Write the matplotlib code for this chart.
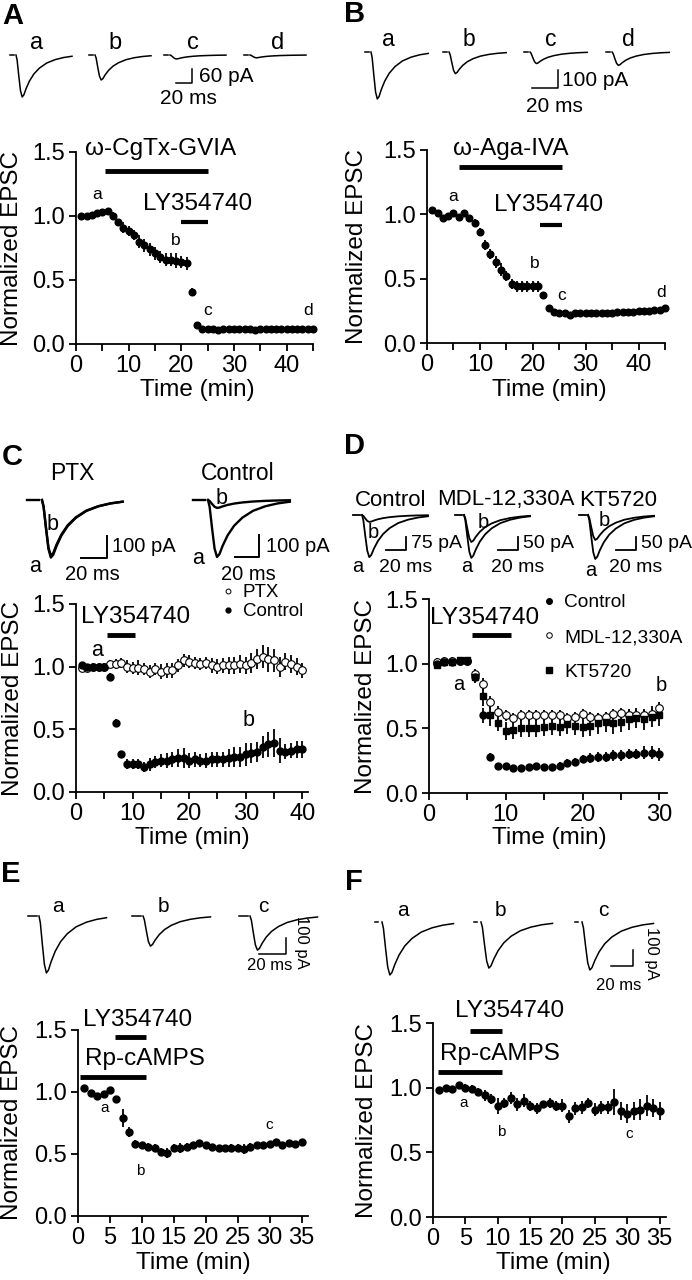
import numpy as np
import matplotlib
matplotlib.use("Agg")
import matplotlib.pyplot as plt
from matplotlib.lines import Line2D

plt.rcParams['font.family'] = ['Liberation Sans', 'DejaVu Sans']

W, H = 692, 1280

##################################################
# time courses: normalized EPSC (mean, sem), one point per minute
##################################################

tA = np.arange(1, 46)
epscA = [1.00, 1.00, 1.01, 1.02, 1.03, 1.04, 1.00, 0.95, 0.91, 0.88,
         0.85, 0.80, 0.77, 0.74, 0.71, 0.68, 0.66, 0.66, 0.65, 0.64,
         0.63, 0.41, 0.15, 0.12, 0.12, 0.12, 0.11, 0.12, 0.12, 0.12,
         0.12, 0.12, 0.12, 0.11, 0.12, 0.12, 0.12, 0.12, 0.12, 0.12,
         0.12, 0.12, 0.12, 0.12, 0.12]
semA = [0.02, 0.02, 0.02, 0.02, 0.02, 0.02, 0.03, 0.03, 0.04, 0.04,
        0.04, 0.05, 0.05, 0.05, 0.05, 0.05, 0.05, 0.05, 0.06, 0.05,
        0.05, 0.03, 0.02, 0.015, 0.015, 0.015, 0.015, 0.015, 0.015, 0.015,
        0.015, 0.015, 0.015, 0.015, 0.015, 0.015, 0.015, 0.015, 0.015, 0.015,
        0.015, 0.015, 0.015, 0.015, 0.015]

tB = np.arange(1, 46)
epscB = [1.03, 1.01, 0.97, 0.99, 1.01, 0.98, 1.01, 0.97, 0.93, 0.86,
         0.76, 0.69, 0.63, 0.57, 0.52, 0.46, 0.44, 0.44, 0.44, 0.44,
         0.44, 0.37, 0.27, 0.24, 0.23, 0.23, 0.22, 0.23, 0.23, 0.23,
         0.23, 0.23, 0.23, 0.23, 0.23, 0.24, 0.24, 0.24, 0.24, 0.25,
         0.25, 0.25, 0.26, 0.26, 0.27]
semB = [0.02, 0.02, 0.02, 0.02, 0.02, 0.02, 0.02, 0.02, 0.03, 0.03,
        0.04, 0.04, 0.05, 0.05, 0.04, 0.04, 0.04, 0.04, 0.04, 0.04,
        0.04, 0.03, 0.02, 0.02, 0.03, 0.03, 0.02, 0.02, 0.02, 0.02,
        0.02, 0.02, 0.02, 0.02, 0.02, 0.02, 0.02, 0.02, 0.02, 0.02,
        0.02, 0.02, 0.02, 0.02, 0.02]

tC = np.arange(1, 41)
ctrlC = [1.01, 1.00, 1.00, 1.00, 1.00, 0.92, 0.55, 0.30, 0.22, 0.22,
         0.22, 0.20, 0.22, 0.24, 0.25, 0.25, 0.26, 0.27, 0.27, 0.25,
         0.26, 0.25, 0.25, 0.26, 0.26, 0.26, 0.27, 0.28, 0.28, 0.30,
         0.31, 0.32, 0.36, 0.38, 0.39, 0.33, 0.32, 0.33, 0.34, 0.34]
ctrlC_sem = [0.02, 0.02, 0.02, 0.02, 0.02, 0.03, 0.03, 0.03, 0.04, 0.04,
             0.04, 0.04, 0.05, 0.05, 0.05, 0.06, 0.06, 0.07, 0.08, 0.06,
             0.06, 0.05, 0.06, 0.06, 0.06, 0.06, 0.07, 0.08, 0.08, 0.09,
             0.08, 0.08, 0.09, 0.10, 0.11, 0.10, 0.06, 0.06, 0.07, 0.07]
ptxC = [0.99, 0.99, 1.00, 1.00, 1.00, 1.02, 1.02, 1.03, 1.00, 0.99,
        0.99, 0.98, 0.96, 0.98, 0.96, 0.97, 0.97, 1.01, 1.05, 1.04,
        1.03, 1.02, 1.03, 1.01, 1.00, 1.01, 1.01, 1.01, 1.02, 1.01,
        1.03, 1.06, 1.08, 1.06, 1.05, 1.00, 1.04, 1.02, 1.00, 0.97]
ptxC_sem = [0.03, 0.03, 0.03, 0.03, 0.03, 0.03, 0.04, 0.04, 0.05, 0.05,
            0.06, 0.05, 0.05, 0.05, 0.06, 0.06, 0.06, 0.05, 0.05, 0.05,
            0.05, 0.05, 0.05, 0.06, 0.06, 0.06, 0.07, 0.07, 0.07, 0.07,
            0.08, 0.08, 0.09, 0.10, 0.09, 0.08, 0.07, 0.07, 0.07, 0.06]

tD = np.arange(1, 31)
ctrlD = [1.00, 1.01, 1.01, 1.02, 1.02, 0.90, 0.60, 0.28, 0.21, 0.21,
         0.19, 0.19, 0.20, 0.21, 0.20, 0.20, 0.21, 0.23, 0.24, 0.26,
         0.27, 0.28, 0.28, 0.29, 0.29, 0.30, 0.30, 0.31, 0.31, 0.30]
ctrlD_sem = [0.02, 0.02, 0.02, 0.02, 0.02, 0.04, 0.06, 0.03, 0.02, 0.02,
             0.02, 0.02, 0.02, 0.02, 0.02, 0.02, 0.03, 0.03, 0.03, 0.03,
             0.04, 0.04, 0.04, 0.04, 0.04, 0.04, 0.04, 0.05, 0.05, 0.05]
mdlD = [1.01, 1.02, 1.02, 1.02, 1.02, 0.92, 0.84, 0.70, 0.63, 0.60,
        0.58, 0.60, 0.60, 0.60, 0.60, 0.60, 0.60, 0.58, 0.59, 0.61,
        0.59, 0.58, 0.59, 0.61, 0.62, 0.60, 0.60, 0.60, 0.61, 0.66]
mdlD_sem = [0.03, 0.03, 0.03, 0.03, 0.03, 0.04, 0.05, 0.05, 0.04, 0.04,
            0.04, 0.04, 0.04, 0.04, 0.04, 0.04, 0.04, 0.04, 0.04, 0.04,
            0.04, 0.04, 0.04, 0.04, 0.04, 0.04, 0.04, 0.04, 0.04, 0.04]
ktD = [0.99, 1.01, 1.01, 1.03, 1.03, 0.90, 0.75, 0.60, 0.54, 0.48,
       0.49, 0.50, 0.50, 0.50, 0.51, 0.52, 0.51, 0.53, 0.52, 0.51,
       0.52, 0.54, 0.55, 0.54, 0.55, 0.57, 0.58, 0.57, 0.59, 0.60]
ktD_sem = [0.02, 0.02, 0.02, 0.02, 0.02, 0.05, 0.08, 0.08, 0.06, 0.07,
           0.07, 0.07, 0.07, 0.07, 0.07, 0.07, 0.07, 0.07, 0.07, 0.08,
           0.08, 0.08, 0.08, 0.08, 0.08, 0.08, 0.08, 0.08, 0.08, 0.08]

tE = np.arange(1, 36)
epscE = [1.03, 0.99, 0.97, 0.98, 1.02, 0.94, 0.79, 0.68, 0.58, 0.57,
         0.56, 0.55, 0.52, 0.51, 0.55, 0.55, 0.56, 0.57, 0.59, 0.57,
         0.56, 0.55, 0.55, 0.55, 0.55, 0.54, 0.56, 0.57, 0.57, 0.58,
         0.60, 0.57, 0.59, 0.58, 0.60]
semE = [0.02, 0.02, 0.02, 0.02, 0.02, 0.03, 0.07, 0.04, 0.03, 0.03,
        0.03, 0.03, 0.03, 0.04, 0.03, 0.04, 0.03, 0.02, 0.02, 0.02,
        0.02, 0.02, 0.02, 0.03, 0.03, 0.04, 0.03, 0.02, 0.02, 0.02,
        0.02, 0.02, 0.02, 0.02, 0.02]

tF = np.arange(1, 36)
epscF = [0.98, 1.00, 0.99, 1.02, 1.00, 0.99, 0.97, 0.94, 0.91, 0.86,
         0.88, 0.92, 0.87, 0.90, 0.86, 0.84, 0.87, 0.88, 0.86, 0.86,
         0.78, 0.84, 0.85, 0.88, 0.83, 0.85, 0.85, 0.89, 0.82, 0.80,
         0.82, 0.83, 0.86, 0.84, 0.82]
semF = [0.02, 0.02, 0.02, 0.02, 0.03, 0.03, 0.03, 0.04, 0.04, 0.06,
        0.04, 0.05, 0.05, 0.05, 0.04, 0.04, 0.03, 0.04, 0.04, 0.05,
        0.05, 0.05, 0.05, 0.04, 0.05, 0.05, 0.05, 0.10, 0.07, 0.07,
        0.07, 0.08, 0.08, 0.07, 0.07]

# drug application periods (min)
cgtxA = [5.5, 25.0]
lyA = [20.0, 25.0]
agaB = [6.0, 25.5]
lyB = [21.4, 25.5]
lyC = [5.5, 10.4]
lyD = [5.6, 10.7]
rpE = [0.3, 10.6]
lyE = [5.8, 10.6]
rpF = [0.8, 10.7]
lyF = [5.7, 10.7]

##################################################
# example EPSC traces (peak amplitude in pA, trace length in ms)
##################################################

# normalized EPSC waveform: fraction of trace length, fraction of peak
tpl_t = [0.00, 0.02, 0.05, 0.08, 0.11, 0.14, 0.18, 0.24, 0.32, 0.42, 0.55, 0.70, 0.85, 1.00]
tpl_v = [0.00, -0.12, -0.50, -0.85, -1.00, -0.95, -0.80, -0.62, -0.45, -0.31, -0.19, -0.11, -0.06, -0.03]

ampA = [180, 107, 17, 12]
durA = 70
ampB = [261, 120, 64, 74]
durB = 44
ampC_ptx = [256, 248]      # a, b
ampC_ctrl = [259, 36]
durC = 62
ampD_ctrl = [243, 40]
ampD_mdl = [165, 104]
ampD_kt = [169, 96]
durD = 66
ampE = [356, 188, 213]
durE = 50
ampF = [331, 288, 300]
durF = 65

fig = plt.figure(figsize=(W / 100, H / 100), dpi=100)


def frac(x0, y0, x1, y1):
    # pixel box (origin top left) -> figure fraction rect
    return [x0 / W, 1 - y1 / H, (x1 - x0) / W, (y1 - y0) / H]


def ftext(x, y, s, size, **kw):
    kw.setdefault('ha', 'center')
    kw.setdefault('va', 'center')
    fig.text(x / W, 1 - y / H, s, fontsize=size, **kw)


def time_axes(left, right, top, bottom, xmax, lab_step):
    ax = fig.add_axes(frac(left, top, right, bottom))
    ax.set_xlim(0, xmax)
    ax.set_ylim(0, 1.5)
    for s in ('top', 'right'):
        ax.spines[s].set_visible(False)
    for s in ('left', 'bottom'):
        ax.spines[s].set_linewidth(1.3)
    ticks = np.arange(0, xmax + 0.1, 5)
    ax.set_xticks(ticks)
    ax.set_xticklabels(['%d' % t if t % lab_step == 0 else '' for t in ticks])
    ax.set_yticks([0, 0.5, 1.0, 1.5])
    ax.set_yticklabels(['0.0', '0.5', '1.0', '1.5'])
    ax.tick_params(direction='out', length=5, width=1.3, labelsize=17, pad=3)
    ax.patch.set_visible(False)
    return ax


def course(ax, t, y, e, marker='o', ms=5, mfc='k', mew=1.0):
    c = ax.errorbar(t, y, yerr=e, fmt=marker, ms=ms, mfc=mfc, mec='k', mew=mew,
                    ecolor='k', elinewidth=1.3, capsize=0)
    c.lines[0].set_clip_on(False)
    for art in c.lines[2]:
        art.set_clip_on(False)


def drug(ax, span, y, lw=3.5):
    ax.plot(span, [y, y], color='k', lw=lw, solid_capstyle='butt', clip_on=False)


def trace_box(x0, base, ms_px, pa_px):
    # frameless axes whose origin (0 ms, 0 pA) sits at pixel (x0, base)
    ax = fig.add_axes(frac(x0 - 40, base - 40, x0 + 120, base + 80))
    ax.set_xlim(-40 / ms_px, 120 / ms_px)
    ax.set_ylim(-80 / pa_px, 40 / pa_px)
    ax.axis('off')
    ax.px = (x0, base, ms_px, pa_px)
    return ax


def epsc(ax, amp, dur, lw=1.1):
    ax.plot(np.array(tpl_t) * dur, np.array(tpl_v) * amp, color='k', lw=lw, clip_on=False)


def dash(ax, length, gap, lw=1.1):
    x0, base, ms_px, pa_px = ax.px
    ax.plot([-(gap + length) / ms_px, -gap / ms_px], [0, 0], color='k', lw=lw)


def scale_bar(ax, cx, cy, ms, pa, lw=1.1):
    x0, base, ms_px, pa_px = ax.px
    x = (cx - x0) / ms_px
    y = -(cy - base) / pa_px
    ax.plot([x - ms, x, x], [y, y, y + pa], color='k', lw=lw, clip_on=False)


def ylab(x, y):
    ftext(x, y, 'Normalized EPSC', 17.5, rotation=90)


def xlab(x, y):
    ftext(x, y, 'Time (min)', 17.5)


# panel letters
for letter, (x, y) in zip('ABCDEF', [(13, 16), (355, 14), (12, 457),
                                       (354, 446), (11, 874), (354, 882)]):
    ftext(x, y, letter, 21, fontweight='bold')

##################################################
# A
##################################################
starts = [16, 95, 170, 250]
for i, (x0, amp) in enumerate(zip(starts, ampA)):
    tb = trace_box(x0, 55, 0.8, 14 / 60)
    dash(tb, 4, 2)
    epsc(tb, amp, durA)
    if i == 2:
        scale_bar(tb, 192, 83, 20, 60)
for s, x in zip('abcd', [37, 115, 193, 278]):
    ftext(x, 43, s, 17)
ftext(199, 77, '60 pA', 15, ha='left')
ftext(188, 99, '20 ms', 15)

axA = time_axes(76, 313, 152, 344, 45, 10)
course(axA, tA, epscA, semA, ms=4.8)
drug(axA, cgtxA, 1.35)
drug(axA, lyA, 0.95, lw=3)
axA.text(16, 1.52, 'ω-CgTx-GVIA', fontsize=17.5, ha='center', va='center')
axA.text(23, 1.09, 'LY354740', fontsize=17.5, ha='center', va='center')
for s, x, y in [('a', 4, 1.17), ('b', 19, 0.81), ('c', 25, 0.26), ('d', 44, 0.26)]:
    axA.text(x, y, s, fontsize=12.5, ha='center', va='center')
ylab(12, 248)
xlab(197, 390)

##################################################
# B
##################################################
starts = [371, 449, 530, 612]
for i, (x0, amp) in enumerate(zip(starts, ampB)):
    tb = trace_box(x0, 52, 1.3, 0.18)
    dash(tb, 4, 2)
    epsc(tb, amp, durB)
    if i == 2:
        scale_bar(tb, 558, 88, 20, 100)
for s, x in zip('abcd', [388, 469, 551, 628]):
    ftext(x, 40, s, 16.5)
ftext(562, 80, '100 pA', 15, ha='left')
ftext(554, 107, '20 ms', 15)

axB = time_axes(427, 665, 150, 343, 45, 10)
course(axB, tB, epscB, semB, ms=4.8)
drug(axB, agaB, 1.37)
drug(axB, lyB, 0.92, lw=3)
axB.text(15.9, 1.51, 'ω-Aga-IVA', fontsize=17.5, ha='center', va='center')
axB.text(23, 1.07, 'LY354740', fontsize=17.5, ha='center', va='center')
for s, x, y in [('a', 5, 1.14), ('b', 20.4, 0.62), ('c', 25.5, 0.37), ('d', 44.2, 0.39)]:
    axB.text(x, y, s, fontsize=12.5, ha='center', va='center')
ylab(357, 247)
xlab(549, 390)

##################################################
# C
##################################################
tb = trace_box(42, 500, 1.3, 0.225)
dash(tb, 12, 3, lw=1.7)
for amp in ampC_ptx:
    epsc(tb, amp, durC, lw=1.7)
scale_bar(tb, 107, 558, 20, 100, lw=1.4)
ftext(72, 473, 'PTX', 16.5)
ftext(53, 525, 'b', 15.5)
ftext(35, 566, 'a', 15.5)
ftext(112, 547, '100 pA', 14.5, ha='left')
ftext(92, 574, '20 ms', 14.5)

tb = trace_box(208, 500, 1.2, 0.22)
dash(tb, 12, 3, lw=1.7)
for amp in ampC_ctrl:
    epsc(tb, amp, durC * 1.1, lw=1.7)
scale_bar(tb, 259, 557, 20, 100, lw=1.4)
ftext(238, 473, 'Control', 16.5)
ftext(222, 498, 'b', 15.5)
ftext(198, 558, 'a', 15.5)
ftext(266, 547, '100 pA', 14.5, ha='left')
ftext(248, 574, '20 ms', 14.5)

axC = time_axes(76, 308, 604, 792, 41, 10)
course(axC, tC, ptxC, ptxC_sem, ms=5.5, mfc='white', mew=0.8)
course(axC, tC, ctrlC, ctrlC_sem, ms=5)
drug(axC, lyC, 1.25)
axC.text(10.6, 1.40, 'LY354740', fontsize=17.5, ha='center', va='center')
axC.text(3.7, 1.13, 'a', fontsize=15.5, ha='center', va='center')
axC.text(30.5, 0.57, 'b', fontsize=15.5, ha='center', va='center')
hC = [Line2D([], [], ls='none', marker='o', ms=3.5, mfc='white', mec='k', mew=0.7),
      Line2D([], [], ls='none', marker='o', ms=3.5, color='k')]
axC.legend(hC, ['PTX', 'Control'], loc='upper left', bbox_to_anchor=(222 / W, 1 - 584 / H),
           bbox_transform=fig.transFigure, frameon=False, fontsize=13.5, handlelength=0.6,
           handletextpad=0.5, labelspacing=0.1, borderpad=0, borderaxespad=0)
ylab(13, 698)
xlab(192, 838)

##################################################
# D
##################################################
groups = [(362, ampD_ctrl, 75 / 13, (406, 550), '75 pA', 'Control', 391,
           (373, 532), (358, 567)),
          (464, ampD_mdl, 50 / 13, (518, 550), '50 pA', 'MDL-12,330A', 506,
           (483, 523), (467, 567)),
          (588, ampD_kt, 50 / 13, (636, 550), '50 pA', 'KT5720', 618,
           (604, 520), (591, 570))]
for x0, amps, pa_per_px, corner, bar_txt, title, tx, bpos, apos in groups:
    tb = trace_box(x0, 515, 1.0, 1 / pa_per_px)
    dash(tb, 7, 2, lw=1.3)
    for amp in amps:
        epsc(tb, amp, durD, lw=1.3)
    scale_bar(tb, corner[0], corner[1], 20, 13 * pa_per_px, lw=1.3)
    ftext(tx, 500, title, 16)
    ftext(bpos[0], bpos[1], 'b', 14.5)
    ftext(apos[0], apos[1], 'a', 14.5)
    ftext(corner[0] + 5, 543, bar_txt, 14, ha='left')
    ftext(corner[0], 567, '20 ms', 14)

axD = time_axes(429, 667, 599, 793, 31, 10)
course(axD, tD, mdlD, mdlD_sem, ms=5.5, mfc='white', mew=0.8)
course(axD, tD, ktD, ktD_sem, marker='s', ms=5)
course(axD, tD, ctrlD, ctrlD_sem, ms=5)
drug(axD, lyD, 1.22)
axD.text(7.2, 1.35, 'LY354740', fontsize=17.5, ha='center', va='center')
axD.text(3.9, 0.84, 'a', fontsize=14.5, ha='center', va='center')
axD.text(30.2, 0.83, 'b', fontsize=14.5, ha='center', va='center')
hD = [Line2D([], [], ls='none', marker='o', ms=4, color='k'),
      Line2D([], [], ls='none', marker='o', ms=4, mfc='white', mec='k', mew=0.7),
      Line2D([], [], ls='none', marker='s', ms=4, color='k')]
axD.legend(hD, ['Control', 'MDL-12,330A', 'KT5720'], loc='upper left',
           bbox_to_anchor=(543 / W, 1 - 594 / H), bbox_transform=fig.transFigure,
           frameon=False, fontsize=13.8, handlelength=0.6, handletextpad=0.5,
           labelspacing=0.9, borderpad=0, borderaxespad=0)
ylab(366, 696)
xlab(549, 838)

##################################################
# E
##################################################
starts = [39, 143, 250]
for i, (x0, amp) in enumerate(zip(starts, ampE)):
    tb = trace_box(x0, 916, 1.35, 0.16)
    dash(tb, 9, 2)
    epsc(tb, amp, durE)
    if i == 2:
        scale_bar(tb, 286, 954, 20, 100)
for s, x in zip('abc', [58, 163, 263]):
    ftext(x, 907, s, 15)
ftext(302, 942, '100 pA', 12, rotation=-90)
ftext(270, 966, '20 ms', 12)

axE = time_axes(78, 308, 1030, 1216, 36, 5)
course(axE, tE, epscE, semE, ms=5)
drug(axE, rpE, 1.12)
drug(axE, lyE, 1.44)
axE.text(9.4, 1.58, 'LY354740', fontsize=17.5, ha='center', va='center')
axE.text(10.5, 1.27, 'Rp-cAMPS', fontsize=17.5, ha='center', va='center')
for s, x, y in [('a', 4.1, 0.87), ('b', 9.8, 0.36), ('c', 29.9, 0.73)]:
    axE.text(x, y, s, fontsize=11, ha='center', va='center')
ylab(12, 1123)
xlab(193, 1263)

##################################################
# F
##################################################
starts = [382, 481, 582]
for i, (x0, amp) in enumerate(zip(starts, ampF)):
    tb = trace_box(x0, 922, 1.1, 0.16)
    dash(tb, 3, 4)
    epsc(tb, amp, durF)
    if i == 2:
        scale_bar(tb, 633, 966, 20, 100)
for s, x in zip('abc', [403, 500, 603]):
    ftext(x, 910, s, 15)
ftext(651, 953, '100 pA', 12, rotation=-90)
ftext(619, 985, '20 ms', 12)

axF = time_axes(433, 666, 1023, 1217, 36, 5)
course(axF, tF, epscF, semF, ms=5)
drug(axF, rpF, 1.12)
drug(axF, lyF, 1.44)
axF.text(11.9, 1.59, 'LY354740', fontsize=17.5, ha='center', va='center')
axF.text(10.4, 1.26, 'Rp-cAMPS', fontsize=17.5, ha='center', va='center')
for s, x, y in [('a', 4.8, 0.88), ('b', 10.5, 0.66), ('c', 30.3, 0.64)]:
    axF.text(x, y, s, fontsize=11, ha='center', va='center')
ylab(367, 1120)
xlab(553, 1263)

fig.savefig('out.png', dpi=100)
